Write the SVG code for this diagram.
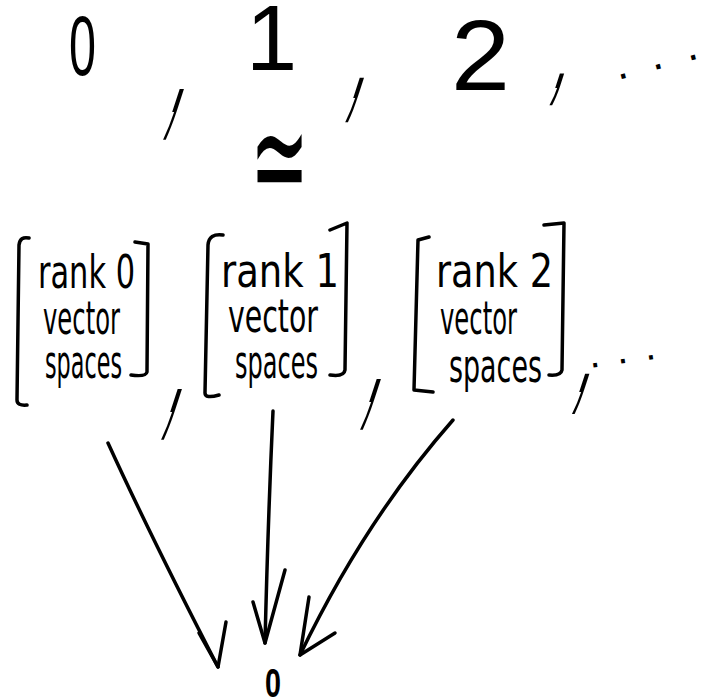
<svg xmlns="http://www.w3.org/2000/svg" width="708" height="697" viewBox="0 0 708 697">
<style>
.ink{fill:none;stroke:#000;stroke-width:3.5;stroke-linecap:round;stroke-linejoin:round}
.t{font-family:"Liberation Sans","DejaVu Sans",sans-serif;fill:#000}
.lbl{font-family:"DejaVu Sans","Liberation Sans",sans-serif;font-size:46px;fill:#000}
</style>
<rect width="708" height="697" fill="#fff"/>
<g id="top-row">
  <text class="t" x="69" y="75" font-size="86" textLength="27" lengthAdjust="spacingAndGlyphs">0</text>
  <text class="t" x="246" y="70" font-size="92">1</text>
  <text class="t" x="451" y="90" font-size="100" textLength="59" lengthAdjust="spacingAndGlyphs">2</text>
  <text class="t" transform="translate(168,112) skewX(-18) scale(0.5,2.4)" font-size="90">,</text>
  <text class="t" transform="translate(349,98) skewX(-18) scale(0.5,2.1)" font-size="90">,</text>
  <text class="t" transform="translate(551,88) skewX(-18) scale(0.5,1.5)" font-size="90">,</text>
  <text class="t" transform="translate(618,80) rotate(-15)" font-size="44" letter-spacing="24">...</text>
  <text class="t" transform="translate(250,208) scale(0.8,1.7)" font-size="88">≃</text>
</g>
<g id="node-rank0">
  <path class="ink" d="M29,238 Q20,236 19,245 L17,400 Q17,406 27,405"/>
  <path class="ink" d="M135,242 L148,244 L147,372 Q146,377 131,375"/>
  <text class="lbl" x="38" y="288" textLength="97" lengthAdjust="spacingAndGlyphs">rank 0</text>
  <text class="lbl" x="43" y="334" textLength="77" lengthAdjust="spacingAndGlyphs">vector</text>
  <text class="lbl" x="45" y="378" textLength="77" lengthAdjust="spacingAndGlyphs">spaces</text>
</g>
<g id="node-rank1">
  <path class="ink" d="M223,235 Q209,233 208,245 L205,393 Q205,399 219,395"/>
  <path class="ink" d="M330,230 L347,223 L345,370 Q344,377 330,375"/>
  <text class="lbl" x="221" y="287" textLength="118" lengthAdjust="spacingAndGlyphs">rank 1</text>
  <text class="lbl" x="228" y="332" textLength="90" lengthAdjust="spacingAndGlyphs">vector</text>
  <text class="lbl" x="235" y="378" textLength="83" lengthAdjust="spacingAndGlyphs">spaces</text>
</g>
<g id="node-rank2">
  <path class="ink" d="M429,237 L418,240 L414,390 L433,392"/>
  <path class="ink" d="M544,225 L564,223 L562,370 Q561,376 549,375"/>
  <text class="lbl" x="436" y="287" textLength="117" lengthAdjust="spacingAndGlyphs">rank 2</text>
  <text class="lbl" x="440" y="334" textLength="77" lengthAdjust="spacingAndGlyphs">vector</text>
  <text class="lbl" x="449" y="382" textLength="93" lengthAdjust="spacingAndGlyphs">spaces</text>
</g>
<g id="separators">
  <text class="t" transform="translate(166,412) skewX(-18) scale(0.5,2.4)" font-size="90">,</text>
  <text class="t" transform="translate(365,402) skewX(-18) scale(0.5,2.4)" font-size="90">,</text>
  <text class="t" transform="translate(575,392) skewX(-18) scale(0.5,1.9)" font-size="90">,</text>
  <text class="t" transform="translate(590,368) rotate(-8)" font-size="40" letter-spacing="17">...</text>
</g>
<g id="node-zero">
  <text class="t" x="265" y="697" font-size="40" textLength="16" lengthAdjust="spacingAndGlyphs" font-weight="bold">0</text>
</g>
<g id="connectors">
  <path class="ink" d="M108,443 Q150,535 218,667"/>
  <path class="ink" d="M199,633 L218,667 L226,622"/>
  <path class="ink" d="M273,411 Q268,520 265,643"/>
  <path class="ink" d="M253,602 L265,643 L285,570"/>
  <path class="ink" d="M453,420 Q365,520 300,655"/>
  <path class="ink" d="M309,597 L300,655 L335,633"/>
</g>
</svg>
